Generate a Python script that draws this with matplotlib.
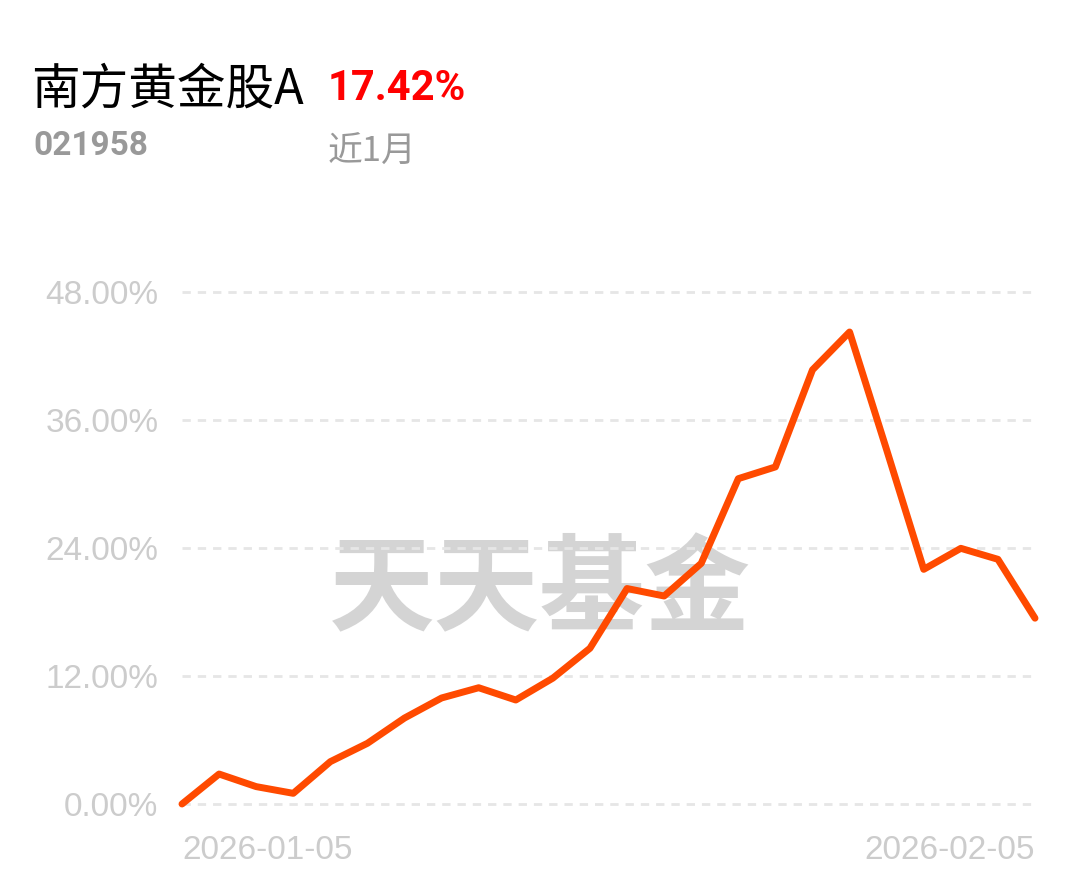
import matplotlib
matplotlib.use("Agg")
import matplotlib.pyplot as plt

# ---- data ----
dates = ["2026-01-05", "2026-01-06", "2026-01-07", "2026-01-08", "2026-01-09",
         "2026-01-12", "2026-01-13", "2026-01-14", "2026-01-15", "2026-01-16",
         "2026-01-19", "2026-01-20", "2026-01-21", "2026-01-22", "2026-01-23",
         "2026-01-26", "2026-01-27", "2026-01-28", "2026-01-29", "2026-01-30",
         "2026-02-02", "2026-02-03", "2026-02-04", "2026-02-05"]
returns = [0.0, 2.81, 1.63, 1.0, 3.97, 5.69, 8.06, 9.94, 10.9, 9.75,
           11.8, 14.6, 20.2, 19.5, 22.56, 30.5, 31.6, 40.7, 44.25, 33.2,
           22.0, 23.97, 22.94, 17.42]
yticks = [0, 12, 24, 36, 48]
ytick_labels = ["0.00%", "12.00%", "24.00%", "36.00%", "48.00%"]
fund_name = "南方黄金股A"
fund_code = "021958"
period_return = "17.42%"
period_label = "近1月"
watermark = "天天基金"

W, H = 1080, 881
fig = plt.figure(figsize=(W / 100, H / 100), dpi=100)
fig.patch.set_facecolor("white")

cjk = ["Noto Sans CJK SC", "DejaVu Sans"]

# header texts
fig.text(31 / W, 1 - 90 / H, fund_name, family=cjk, fontsize=35, color="black",
         va="center", ha="left")
fig.text(328 / W, 1 - 89 / H, period_return, family="Roboto", fontweight="bold",
         fontsize=30, color="#ff0000", va="center", ha="left")
fig.text(33 / W, 1 - 146 / H, fund_code, family="Roboto", fontweight="bold",
         fontsize=24, color="#999999", va="center", ha="left")
fig.text(328 / W, 1 - 152 / H, period_label, family=cjk, fontsize=25,
         color="#999999", va="center", ha="left")

# axes
x0, x1 = 182, 1035
ybot, ytop = 804, 292
ax = fig.add_axes([x0 / W, 1 - ybot / H, (x1 - x0) / W, (ybot - ytop) / H])
ax.set_xlim(0, len(returns) - 1)
ax.set_ylim(0, 48)
for s in ax.spines.values():
    s.set_visible(False)
ax.set_facecolor("none")

# watermark (inside axes so it stays under the line)
ax.text(540 / W, 1 - 592 / H, watermark, transform=fig.transFigure, family=cjk,
        fontweight="bold", fontsize=76, color="#d4d4d4", ha="center", va="center",
        zorder=0.5)

xs = list(range(len(returns)))
for yv in yticks:
    ax.axhline(yv, xmin=0, xmax=(1031 - x0) / (x1 - x0), color="#e6e6e6",
               lw=2, ls=(0, (3, 2.5)), zorder=1, clip_on=False)

ax.plot(xs, returns, color="#ff4a00", lw=5, solid_joinstyle="round",
        solid_capstyle="round", zorder=3, clip_on=False)

ax.set_yticks(yticks)
ax.set_yticklabels(ytick_labels, family="Liberation Sans", fontsize=24, color="#cccccc")
ax.tick_params(axis="y", length=0, pad=17)

ax.set_xticks([0, len(returns) - 1])
ax.set_xticklabels([dates[0], dates[-1]], family="Liberation Sans", fontsize=24,
                   color="#cccccc")
lbls = ax.get_xticklabels()
lbls[0].set_ha("left")
lbls[1].set_ha("right")
ax.tick_params(axis="x", length=0, pad=22)

fig.savefig("out.png", dpi=100, facecolor="white")
